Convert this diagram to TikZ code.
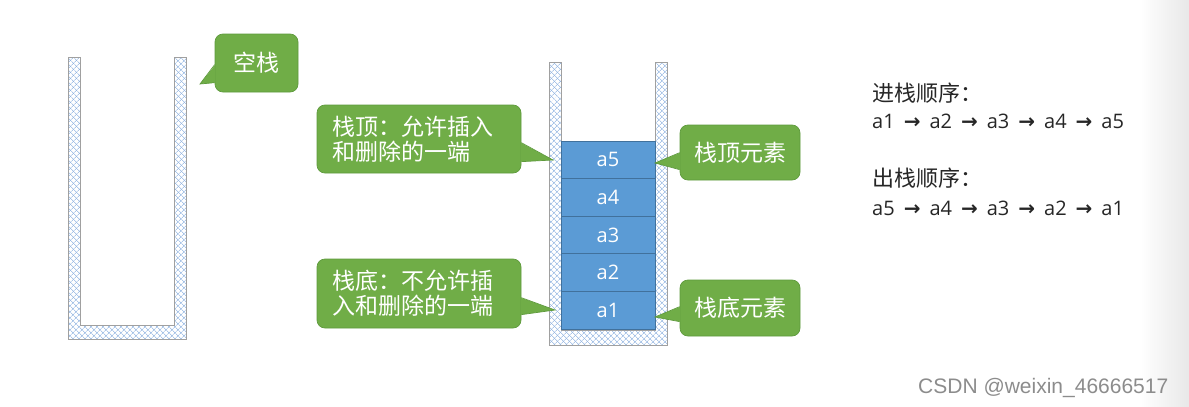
\documentclass[tikz,border=0pt]{standalone}
\usepackage{fontspec}
\setmainfont{Open Sans}
\newfontfamily\cjk{Noto Sans CJK SC}
\newfontfamily\arrowfont{DejaVu Sans}
\newfontfamily\wmfont{Liberation Sans}
\usetikzlibrary{patterns.meta,calc}
\definecolor{cgreen}{HTML}{70AD47}
\definecolor{cborder}{HTML}{5E9A3C}
\definecolor{bfill}{HTML}{5B9BD5}
\definecolor{bborder}{HTML}{41719C}
\definecolor{hatch}{HTML}{7FA8DC}
\definecolor{wallgray}{HTML}{A0A0A0}
\definecolor{txt}{HTML}{262626}
\definecolor{wm}{HTML}{8C8C8C}
\tikzset{
  wall/.style={draw=wallgray, line width=0.6pt,
    pattern={Lines[angle=45,distance=4pt,line width=0.55pt]}, pattern color=hatch,
    preaction={pattern={Lines[angle=-45,distance=4pt,line width=0.55pt]}, pattern color=hatch}},
  callout/.style={draw=cborder, fill=cgreen, rounded corners=8pt, line width=0.7pt,
    text=white, font=\cjk\fontsize{23}{25}\selectfont, inner sep=0pt},
  ptrfill/.style={fill=cgreen},
  ptrline/.style={draw=cborder, line width=0.7pt},
  block/.style={draw=bborder, fill=bfill, line width=0.8pt, minimum width=94pt,
    minimum height=37.6pt, inner sep=0pt, text=white, font=\fontsize{20}{22}\selectfont},
  cjktext/.style={anchor=west, inner sep=0pt, text=txt, font=\cjk\fontsize{22}{24}\selectfont},
  seqtext/.style={anchor=base west, inner sep=0pt, text=txt, font=\fontsize{20}{24}\selectfont},
}
\newcommand\sar{\hspace{9pt}{\arrowfont\bfseries →}\hspace{9pt}}
\begin{document}
\begin{tikzpicture}[x=1pt,y=-1pt]
\useasboundingbox (0,0) rectangle (1189,407);
\shade[left color=white, right color=black!9] (1140,0) rectangle (1189,407);

% containers
\draw[wall] (68,57) -- (68,339) -- (186,339) -- (186,57) -- (174,57) -- (174,325) -- (80,325) -- (80,57) -- cycle;
\draw[wall] (549,62) -- (549,345) -- (667,345) -- (667,62) -- (655,62) -- (655,330) -- (561,330) -- (561,62) -- cycle;

% blocks
\node[block] (a5) at (608,159.8) {a5};
\node[block] (a4) at (608,197.4) {a4};
\node[block] (a3) at (608,235.0) {a3};
\node[block] (a2) at (608,272.6) {a2};
\node[block] (a1) at (608,310.2) {a1};

% callout tips
\coordinate (t0) at (200,84);
\coordinate (t1) at (553,160);
\coordinate (t2) at (555,310);
\coordinate (t3) at (655,163);
\coordinate (t4) at (655,317);

% callouts
\node[callout, minimum width=83pt, minimum height=58pt] (c0) at (256.5,63) {空栈};
\node[callout, minimum width=204pt, minimum height=68pt, text width=174pt, align=left] (c1) at (419,139) {栈顶：允许插入\\和删除的一端};
\node[callout, minimum width=204pt, minimum height=69pt, text width=174pt, align=left] (c2) at (419,293.5) {栈底：不允许插\\入和删除的一端};
\node[callout, minimum width=120pt, minimum height=55pt] (c3) at (740,152.5) {栈顶元素};
\node[callout, minimum width=120pt, minimum height=56pt] (c4) at (740,308) {栈底元素};

% pointers
\fill[ptrfill] ($(c0.north west)+(0.8,31)$) -- (t0) -- ($(c0.north west)+(0.8,49)$) -- cycle;
\draw[ptrline] ($(c0.north west)+(0,31)$) -- (t0) -- ($(c0.north west)+(0,49)$);
\fill[ptrfill] ($(c1.north east)+(-0.8,38)$) -- (t1) -- ($(c1.north east)+(-0.8,57)$) -- cycle;
\draw[ptrline] ($(c1.north east)+(0,38)$) -- (t1) -- ($(c1.north east)+(0,57)$);
\fill[ptrfill] ($(c2.north east)+(-0.8,39)$) -- (t2) -- ($(c2.north east)+(-0.8,56)$) -- cycle;
\draw[ptrline] ($(c2.north east)+(0,39)$) -- (t2) -- ($(c2.north east)+(0,56)$);
\fill[ptrfill] ($(c3.north west)+(0.8,28)$) -- (t3) -- ($(c3.north west)+(0.8,45)$) -- cycle;
\draw[ptrline] ($(c3.north west)+(0,28)$) -- (t3) -- ($(c3.north west)+(0,45)$);
\fill[ptrfill] ($(c4.north west)+(0.8,27)$) -- (t4) -- ($(c4.north west)+(0.8,42)$) -- cycle;
\draw[ptrline] ($(c4.north west)+(0,27)$) -- (t4) -- ($(c4.north west)+(0,42)$);

% sequences
\node[cjktext] (inlabel) at (872,93) {进栈顺序：};
\node[seqtext] (inseq) at (872,128) {a1\sar a2\sar a3\sar a4\sar a5};
\node[cjktext] (outlabel) at (872,178) {出栈顺序：};
\node[seqtext] (outseq) at (872,215) {a5\sar a4\sar a3\sar a2\sar a1};

% watermark
\node[anchor=west, inner sep=0pt, text=wm, font=\wmfont\fontsize{21}{24}\selectfont] (wmark) at (918,388) {CSDN @weixin\_46666517};
\end{tikzpicture}
\end{document}
